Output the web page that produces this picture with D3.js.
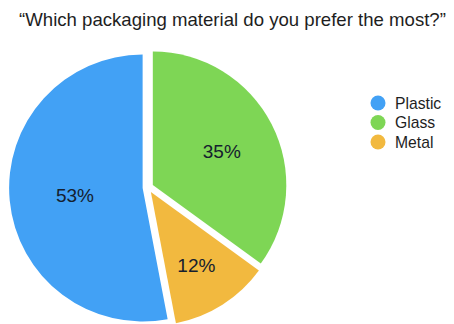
<!DOCTYPE html>
<html>
<head>
<meta charset="utf-8">
<script src="https://cdn.jsdelivr.net/npm/d3@7"></script>
<style>
  html, body { margin: 0; padding: 0; background: #fff; }
  svg { display: block; font-family: "Liberation Sans", Arial, Helvetica, sans-serif; }
</style>
</head>
<body>
<svg id="chart" width="454" height="324"></svg>
<script>
// Survey answers
const title = "\u201CWhich packaging material do you prefer the most?\u201D";
const categories = ["Plastic", "Glass", "Metal"];
const shares = [53, 35, 12];
const colors = ["#42A1F5", "#7ED655", "#F2B93F"];

const svg = d3.select("#chart");
const cx = 148, cy = 187.5, R = 133.5, explode = 5.4;

svg.append("text")
  .attr("x", 232.5).attr("y", 26)
  .attr("text-anchor", "middle")
  .attr("font-size", 18.6)
  .attr("fill", "#1e1e1e")
  .text(title);

const total = d3.sum(shares);
const start = -2 * Math.PI * shares[0] / total;
const pie = d3.pie().sort(null).value(d => d.value)
  .startAngle(start).endAngle(start + 2 * Math.PI);

const data = categories.map((c, i) => ({ name: c, value: shares[i], color: colors[i] }));
const arcs = pie(data);
const arc = d3.arc().innerRadius(0).outerRadius(R);

const g = svg.append("g").attr("transform", `translate(${cx},${cy})`);

function shift(d, r) {
  const a = (d.startAngle + d.endAngle) / 2;
  return [Math.sin(a) * r, -Math.cos(a) * r];
}

// label distance: between sector centroid and a fixed fraction of the radius
function labelRadius(d) {
  const t = d.endAngle - d.startAngle;
  const centroid = 4 * R * Math.sin(t / 2) / (3 * t);
  return 0.5 * centroid + 0.5 * 0.62 * R;
}

const slice = g.selectAll("g.slice").data(arcs).join("g")
  .attr("class", "slice")
  .attr("transform", d => `translate(${shift(d, explode)})`);

slice.append("path")
  .attr("d", arc)
  .attr("fill", d => d.data.color);

slice.append("text")
  .attr("transform", d => `translate(${shift(d, labelRadius(d))})`)
  .attr("text-anchor", "middle")
  .attr("dy", "0.42em")
  .attr("font-size", 19)
  .attr("fill", "#15202e")
  .text(d => d.data.value + "%");

// legend
const legend = svg.append("g").attr("transform", "translate(378,103)");
const row = legend.selectAll("g").data(data).join("g")
  .attr("transform", (d, i) => `translate(0,${i * 19.5})`);
row.append("circle").attr("r", 7.5).attr("fill", d => d.color);
row.append("text")
  .attr("x", 17).attr("dy", "0.36em")
  .attr("font-size", 15.7)
  .attr("fill", "#1e1e1e")
  .text(d => d.name);
</script>
</body>
</html>
